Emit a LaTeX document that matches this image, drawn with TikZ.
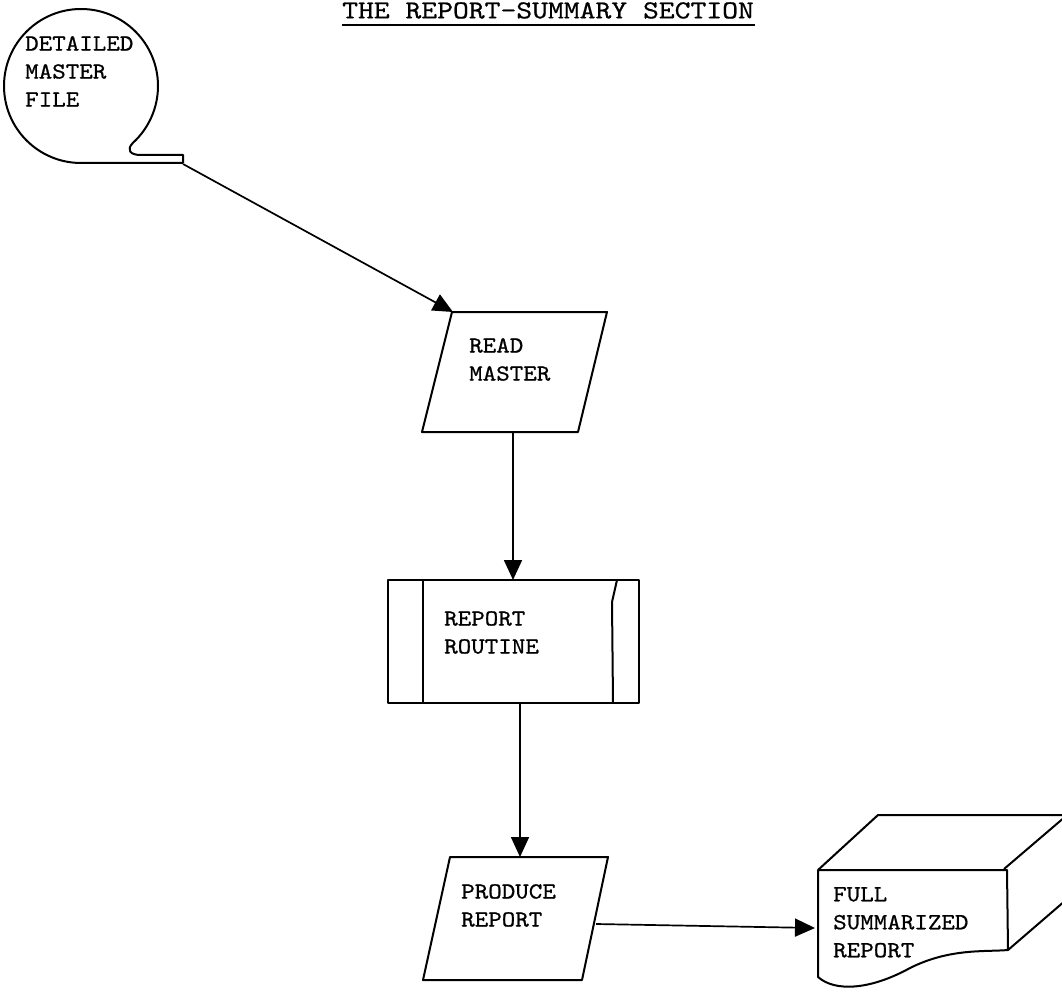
\documentclass[tikz,border=0pt]{standalone}
\usepackage{fontspec}
\usetikzlibrary{arrows.meta}
\newfontfamily\tw[FakeStretch=1.12,FakeBold=0.8]{lmmono10-regular.otf}
\newfontfamily\twtitle[FakeStretch=1.16,FakeBold=0.6]{lmmono10-regular.otf}
\begin{document}
\begin{tikzpicture}[x=1pt,y=-1pt,
  outline/.style={line width=2pt, line join=round},
  label/.style={inner sep=0pt, anchor=north west, align=left,
    font={\tw\fontsize{23}{28}\selectfont}},
  flow/.style={line width=1.7pt, -{Triangle[length=20pt,width=18pt]}}]
\useasboundingbox (0,0) rectangle (1062,992);
\clip (0,0) rectangle (1062,992);

% title
\node[inner sep=0pt, anchor=north west, font={\twtitle\fontsize{26}{30}\selectfont}]
  (title) at (342,2) {THE REPORT-SUMMARY SECTION};
\draw[line width=1.6pt] (342,25) -- (755,25);

% magnetic tape storage symbol
\draw[outline] (183,163) -- (81,163) arc[start angle=90, end angle=407.6, radius=77]
  .. controls (126,150) and (130,155) .. (141,155) -- (183,155) -- (183,163);
\coordinate (tapeout) at (183,164);
\node[label] (tape) at (25,36) {DETAILED\\MASTER\\FILE};

% input: read master
\draw[outline] (452,312) -- (607,312) -- (578,432) -- (422,432) -- cycle;
\coordinate (readin) at (453,312);
\coordinate (readout) at (513,432);
\node[label] (read) at (469,338) {READ\\MASTER};

% predefined process: report routine
\draw[outline] (388,580) rectangle (639,703);
\draw[outline] (423,580) -- (423,703);
\draw[outline] (617,580) -- (612,602) -- (613,703);
\coordinate (routin) at (513,580);
\coordinate (routout) at (520,703);
\node[label] (routine) at (444,611) {REPORT\\ROUTINE};

% output: produce report
\draw[outline] (450,857) -- (608,857) -- (582,980) -- (423,980) -- cycle;
\coordinate (prodin) at (520,857);
\coordinate (prodout) at (596,924);
\node[label] (produce) at (461,884) {PRODUCE\\REPORT};

% printed report stack
\draw[outline] (818,870) -- (1007,870) -- (1008,950)
  .. controls (985,952) and (950,948) .. (910,968)
  .. controls (870,990) and (835,992) .. (818,977) -- cycle;
\draw[outline] (818,870) -- (878,815) -- (1070,815);
\draw[outline] (1004,869) -- (1066,816);
\draw[outline] (1008,950) -- (1066,900);
\coordinate (repin) at (815,928);
\node[label] (report) at (833,887) {FULL\\SUMMARIZED\\REPORT};

% flow lines
\draw[flow] (tapeout) -- (readin);
\draw[flow] (readout) -- (routin);
\draw[flow] (routout) -- (prodin);
\draw[flow] (prodout) -- (repin);
\end{tikzpicture}
\end{document}
